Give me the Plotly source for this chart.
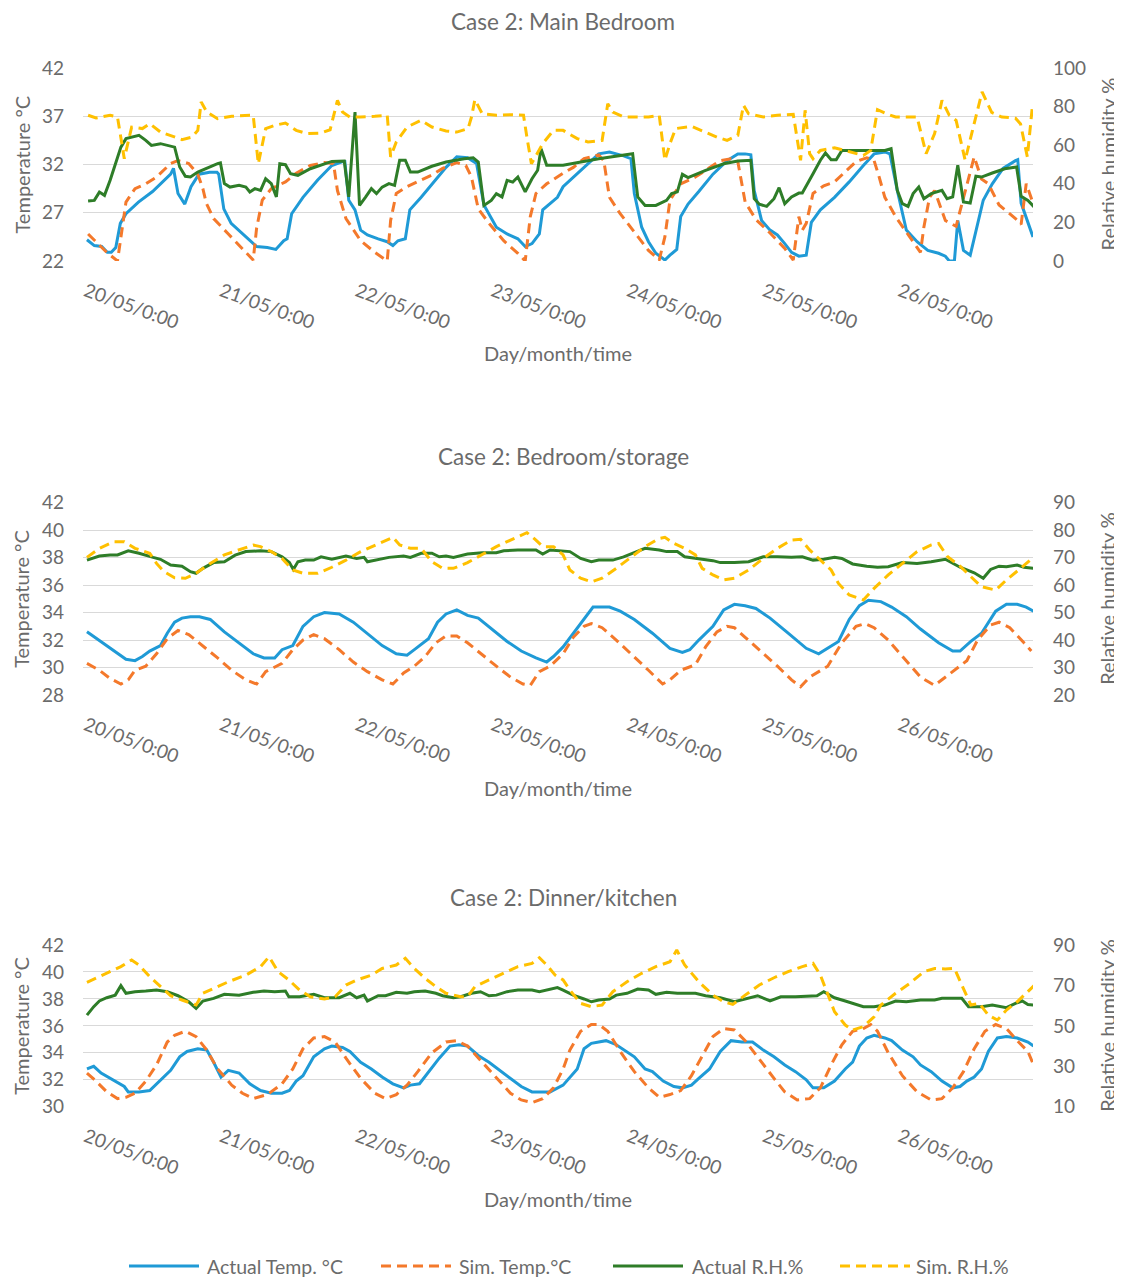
import plotly.graph_objects as go

# ---------------- data (hour since 20/05 0:00, value) ----------------
DAY_HOURS = [0, 24, 48, 72, 96, 120, 144]
DAY_LABELS = ["20/05/0:00", "21/05/0:00", "22/05/0:00", "23/05/0:00",
              "24/05/0:00", "25/05/0:00", "26/05/0:00"]
SERIES_NAMES = ["Actual Temp. °C", "Sim. Temp.°C", "Actual R.H.%", "Sim. R.H.%"]
TITLES = ["Case 2: Main Bedroom", "Case 2: Bedroom/storage", "Case 2: Dinner/kitchen"]

# Chart 1: Main Bedroom
bed_act_temp = [(0.2,24.2),(1.5,23.6),(2.8,23.5),(3.8,22.9),(4.5,22.9),(5.3,23.4),(6.1,25.9),(7.1,26.9),(9.3,28.1),(11.8,29.2),
    (15.0,31.0),(15.5,31.6),(16.3,29.0),(17.5,27.9),(18.6,29.7),(20.0,31.0),(21.9,31.2),(23.2,31.2),(23.5,31.0),(24.4,27.4),
    (25.7,25.9),(28.3,24.5),(30.2,23.5),(32.1,23.4),(33.6,23.2),(35.0,24.1),(35.6,24.3),(36.4,26.9),(38.4,28.6),(41.0,30.4),
    (43.5,31.9),(45.4,32.3),(45.8,32.3),(46.5,28.3),(47.6,27.3),(48.6,25.2),(49.8,24.7),(51.7,24.3),(53.3,24.0),(54.3,23.6),
    (55.2,24.1),(56.5,24.3),(57.3,27.3),(59.3,28.6),(61.8,30.4),(63.7,31.7),(65.6,32.8),(67.5,32.7),(69.1,32.1),(70.4,27.8),
    (72.6,25.5),(74.5,24.8),(76.4,24.3),(77.7,23.5),(78.9,23.8),(80.2,24.8),(80.8,27.3),(83.4,28.6),(84.4,29.7),(87.5,31.4),
    (90.7,33.1),(92.6,33.3),(95.1,32.9),(96.4,32.6),(97.0,29.0),(98.3,25.5),(99.5,24.0),(100.8,22.8),(102.4,22.1),(103.3,22.6),
    (104.5,23.2),(105.2,26.6),(106.5,27.9),(108.4,29.2),(110.9,31.0),(113.4,32.4),(115.3,33.1),(116.6,33.1),(117.6,33.0),(118.2,29.3),
    (119.5,26.2),(121.0,25.2),(122.3,24.7),(123.6,23.8),(124.8,22.9),(126.1,22.5),(127.4,22.6),(128.3,26.0),(129.9,27.3),(132.4,28.6),
    (135.0,30.2),(137.5,31.9),(139.4,33.1),(141.3,33.3),(142.2,33.1),(143.5,29.3),(145.1,25.2),(147.0,24.0),(148.9,23.1),(150.8,22.8),
    (152.0,22.5),(152.7,22.0),(153.6,22.0),(154.2,26.2),(155.2,23.1),(156.4,22.6),(157.7,25.9),(158.7,28.3),(160.3,30.0),(162.2,31.6),
    (164.4,32.4),(164.8,32.5),(165.4,28.0),(167.5,24.5)]
bed_sim_temp = [(0.4,24.8),(1.8,24.0),(3.7,22.9),(5.6,22.0),(6.5,25.9),(7.1,28.1),(8.7,29.5),(10.6,30.0),(12.5,30.7),(15.0,32.1),
    (16.3,32.4),(18.2,32.1),(19.8,31.0),(20.7,29.5),(21.3,28.0),(22.6,26.4),(25.2,24.8),(27.7,23.3),(29.6,22.1),(30.2,25.4),
    (31.2,28.3),(32.8,29.5),(35.3,30.2),(37.2,31.1),(39.7,31.9),(42.2,32.2),(43.8,32.1),(44.5,29.3),(46.0,26.4),(48.6,24.1),
    (51.1,22.9),(53.3,22.0),(53.9,26.2),(54.9,29.0),(56.8,29.7),(59.3,30.4),(61.2,30.9),(63.1,31.6),(65.6,32.2),(67.2,31.9),
    (68.2,30.7),(69.4,27.4),(71.3,25.9),(73.9,24.1),(76.4,22.8),(77.7,22.0),(78.6,26.6),(79.6,29.0),(81.5,30.0),(84.4,31.1),
    (86.2,31.7),(88.1,32.6),(90.7,33.0),(91.6,32.4),(92.6,28.6),(94.5,26.9),(97.0,25.0),(99.5,23.1),(101.4,22.1),(102.4,24.5),
    (103.3,28.3),(105.2,30.0),(107.8,30.7),(109.6,31.4),(112.2,32.4),(114.1,32.6),(115.3,32.3),(116.6,28.1),(118.5,26.3),(121.0,24.9),
    (123.6,23.3),(125.1,22.1),(126.1,26.6),(126.7,25.2),(127.4,25.9),(128.6,29.0),(130.5,29.8),(132.4,30.2),(134.3,31.2),(136.2,32.3),
    (138.1,32.7),(139.4,32.4),(140.3,30.7),(141.3,28.6),(143.2,26.6),(145.1,25.0),(147.0,23.5),(147.6,22.9),(148.2,25.5),(149.2,28.6),
    (150.1,29.3),(152.0,26.2),(153.9,25.6),(157.1,32.8),(158.4,30.5),(159.6,30.0),(161.5,27.8),(164.4,26.4),(165.4,25.8),(166.3,30.0),
    (167.5,28.0)]
bed_act_rh = [(0.4,31.1),(1.5,31.4),(2.4,35.7),(3.3,34.0),(4.3,41.8),(6.2,59.0),(7.1,63.4),(8.4,64.2),(9.4,65.1),(10.6,62.5),
    (11.6,59.9),(13.2,60.8),(14.4,60.0),(15.7,59.0),(16.6,48.7),(17.6,43.9),(18.5,43.5),(19.8,46.1),(23.3,50.4),(23.8,50.8),
    (24.5,40.1),(25.5,38.3),(27.1,39.2),(28.3,38.3),(29.0,35.8),(29.9,37.5),(30.9,36.6),(31.8,42.6),(32.8,40.1),(33.7,33.2),
    (34.3,50.4),(35.3,49.9),(36.2,45.2),(37.5,44.4),(39.7,47.8),(42.2,50.4),(43.5,51.6),(45.7,51.8),(46.5,33.2),(47.6,77.2),
    (48.4,28.8),(49.5,33.2),(50.5,37.5),(51.4,34.9),(52.4,38.3),(53.6,40.1),(54.6,39.2),(55.5,52.2),(56.5,52.2),(57.4,46.1),
    (58.7,46.1),(61.2,49.1),(63.7,51.3),(66.9,53.0),(68.5,53.5),(69.4,51.3),(70.4,28.8),(71.7,31.4),(72.6,34.9),(73.6,33.2),
    (74.5,41.8),(75.5,40.9),(76.4,43.5),(77.7,35.8),(78.9,42.6),(79.9,47.0),(80.5,58.2),(81.5,49.6),(84.4,49.6),(90.7,53.0),
    (93.8,54.2),(96.7,55.6),(97.6,33.2),(98.9,28.8),(100.8,28.8),(102.7,31.4),(103.6,34.9),(104.6,35.8),(105.5,44.9),(106.5,43.2),
    (109.6,47.0),(112.8,50.4),(115.3,51.8),(117.6,52.2),(118.2,32.3),(119.1,29.4),(120.4,28.3),(121.7,32.3),(122.6,38.0),(123.6,29.7),
    (124.8,33.2),(126.1,35.2),(126.7,35.2),(127.7,40.9),(128.6,45.2),(129.9,52.2),(130.8,56.0),(131.8,52.5),(132.7,52.5),(133.7,57.3),
    (138.1,57.3),(141.3,57.3),(142.4,58.2),(143.5,36.6),(144.4,29.7),(145.4,28.3),(146.3,34.9),(147.3,38.3),(148.2,32.3),(149.5,34.9),
    (151.4,36.6),(152.3,32.3),(153.3,33.2),(154.2,49.6),(155.2,30.6),(156.4,30.0),(157.4,43.9),(158.4,43.5),(160.3,45.6),(162.5,47.8),
    (164.6,48.7),(165.4,33.5),(166.6,31.4),(167.7,28.0)]
bed_sim_rh = [(0.4,75.5),(1.8,74.1),(4.3,75.5),(5.6,74.6),(6.8,53.0),(8.1,69.4),(10.0,68.6),(11.3,71.2),(13.2,66.8),(15.0,65.1),
    (17.0,62.9),(18.8,64.2),(19.8,67.7),(20.4,82.4),(21.4,77.2),(23.3,73.7),(25.8,75.0),(29.0,75.5),(29.6,75.5),(30.5,50.4),
    (31.8,68.6),(33.4,70.3),(35.3,71.5),(37.2,67.7),(39.1,66.0),(41.6,66.3),(43.2,68.0),(44.5,83.2),(45.4,77.2),(46.7,74.6),
    (48.6,74.6),(51.1,75.0),(53.3,75.5),(53.9,53.9),(54.9,61.7),(56.8,69.4),(59.3,72.9),(61.2,69.4),(63.7,67.4),(65.6,66.8),
    (67.6,68.6),(68.2,74.6),(68.8,83.6),(70.1,76.3),(72.6,75.5),(75.1,75.8),(77.4,75.5),(78.0,64.2),(78.8,50.4),(80.8,60.8),
    (82.7,67.7),(84.4,67.7),(86.9,63.4),(88.8,61.7),(91.3,62.5),(92.3,81.5),(93.2,77.2),(95.1,74.6),(97.0,74.6),(99.5,74.6),
    (101.4,75.5),(102.4,52.2),(103.3,60.8),(104.3,68.6),(107.1,69.8),(109.6,66.8),(111.6,64.2),(113.4,62.5),(115.3,65.1),(116.3,80.7),
    (117.2,76.3),(119.8,74.6),(122.3,75.5),(125.1,76.0),(125.8,64.2),(126.4,52.2),(127.2,78.1),(128.0,55.6),(128.6,53.0),(129.9,57.3),
    (132.4,58.7),(135.0,56.5),(137.5,54.7),(138.8,57.3),(140.0,78.4),(141.6,76.3),(143.2,74.6),(145.4,74.6),(147.0,74.6),(148.6,55.6),
    (150.1,66.0),(151.4,83.2),(152.7,75.5),(153.9,72.9),(155.5,52.2),(156.8,67.7),(158.5,87.6),(160.2,77.0),(162.0,74.6),(164.4,74.0),
    (165.3,71.0),(165.9,62.4),(166.5,53.9),(167.4,80.4)]

# Chart 2: Bedroom/storage
sto_act_temp = [(0.2,32.6),(3.0,31.8),(5.6,31.0),(7.1,30.6),(8.7,30.5),(10.0,30.8),(11.3,31.2),(13.2,31.6),(14.4,32.5),(15.7,33.3),
    (17.0,33.6),(18.5,33.7),(20.1,33.7),(22.0,33.5),(24.5,32.6),(27.1,31.8),(29.6,31.0),(31.5,30.7),(33.4,30.7),(34.7,31.3),
    (36.6,31.6),(38.4,33.0),(40.3,33.7),(42.2,34.0),(44.8,33.9),(47.3,33.3),(49.8,32.5),(52.4,31.6),(54.9,31.0),(56.8,30.9),
    (58.1,31.3),(60.6,32.1),(62.2,33.3),(63.7,33.9),(65.6,34.2),(67.5,33.8),(69.4,33.6),(72.0,32.7),(74.5,31.9),(77.0,31.2),
    (79.6,30.7),(81.5,30.4),(82.7,30.8),(84.4,31.5),(86.2,32.5),(88.1,33.5),(89.7,34.4),(92.6,34.4),(94.5,34.1),(97.0,33.5),
    (100.2,32.5),(103.3,31.4),(105.5,31.1),(106.8,31.3),(108.4,32.0),(110.9,33.0),(112.8,34.2),(114.7,34.6),(116.6,34.5),(118.5,34.3),
    (121.0,33.6),(124.2,32.5),(127.4,31.4),(129.6,31.0),(131.2,31.4),(133.1,31.9),(135.0,33.5),(136.8,34.5),(138.4,34.9),(140.6,34.8),
    (142.5,34.4),(145.1,33.7),(147.6,32.8),(150.8,31.8),(153.3,31.2),(154.6,31.2),(156.5,31.9),(158.4,32.5),(160.9,34.1),(162.8,34.6),
    (164.7,34.6),(166.3,34.4),(167.6,34.1)]
sto_sim_temp = [(0.2,30.3),(2.4,29.8),(4.3,29.2),(6.2,28.8),(7.5,29.1),(8.7,29.8),(10.6,30.1),(12.5,31.0),(14.4,32.1),(16.3,32.7),
    (18.2,32.4),(20.7,31.6),(23.3,30.7),(25.8,29.8),(28.3,29.1),(30.2,28.8),(31.8,29.7),(34.7,30.3),(36.6,31.3),(38.4,32.0),
    (40.3,32.4),(42.2,32.1),(44.8,31.3),(47.3,30.4),(49.8,29.7),(52.4,29.1),(54.3,28.8),(56.2,29.6),(58.1,30.1),(60.0,30.8),
    (61.9,31.8),(63.7,32.3),(65.6,32.3),(67.5,31.8),(70.1,30.9),(72.6,30.1),(75.1,29.3),(77.3,28.8),(78.6,28.7),(80.2,29.7),
    (82.1,30.1),(84.4,31.0),(86.2,32.2),(88.1,33.0),(89.4,33.2),(91.3,32.9),(93.8,32.0),(97.0,30.8),(99.5,29.8),(102.0,28.8),
    (103.3,29.1),(105.2,29.8),(107.8,30.2),(109.6,31.5),(111.6,32.6),(113.4,33.0),(114.7,32.9),(116.6,32.2),(119.1,31.3),(122.3,30.1),
    (124.8,29.1),(126.4,28.6),(128.0,29.3),(131.2,30.1),(133.7,31.8),(136.2,33.0),(137.8,33.2),(139.4,32.9),(141.9,32.0),(145.1,30.5),
    (147.6,29.3),(150.1,28.7),(152.0,29.3),(153.9,29.9),(155.8,30.5),(157.7,32.0),(160.0,33.1),(161.5,33.3),(163.4,32.9),(165.9,31.8),
    (167.2,31.2)]
sto_act_rh = [(0.2,69.1),(2.4,70.6),(4.3,71.0),(5.6,71.0),(7.5,72.5),(9.4,71.6),(11.9,70.1),(13.2,69.4),(15.0,67.3),(17.0,66.9),
    (18.5,64.9),(19.5,64.3),(20.7,66.1),(22.6,68.2),(24.5,68.5),(26.4,70.9),(28.3,72.2),(30.9,72.5),(32.8,72.2),(34.7,70.3),
    (36.0,68.2),(36.7,65.7),(37.5,68.5),(38.8,69.1),(40.3,69.1),(41.6,70.3),(43.5,69.4),(46.0,70.6),(47.9,69.7),(49.2,70.1),
    (49.8,68.5),(53.6,70.1),(56.2,70.6),(57.4,70.1),(59.3,71.6),(61.2,71.6),(62.5,70.3),(63.7,70.6),(65.0,70.1),(66.0,70.6),
    (67.5,71.3),(70.1,71.8),(72.6,71.8),(73.9,72.5),(76.4,72.8),(79.6,72.8),(80.8,71.3),(82.1,72.8),(84.4,72.5),(85.6,72.2),
    (87.5,69.7),(89.4,68.5),(90.7,69.1),(93.2,69.1),(95.1,70.3),(97.0,71.8),(98.9,73.4),(101.4,72.8),(102.7,72.2),(104.6,72.2),
    (105.9,70.3),(109.0,69.4),(110.9,68.9),(112.2,68.2),(114.7,68.2),(117.2,68.5),(119.8,70.3),(122.3,70.3),(124.8,70.1),(126.7,70.3),
    (128.6,69.1),(130.5,69.4),(132.4,70.1),(133.7,69.7),(135.6,67.7),(138.1,66.9),(140.0,66.5),(141.9,66.7),(144.4,68.2),(147.0,67.9),
    (149.5,68.5),(152.0,69.4),(153.0,68.2),(154.6,66.5),(157.1,64.5),(158.7,62.5),(160.0,65.7),(161.5,66.9),(162.8,66.7),(164.7,67.3),
    (165.9,66.5),(167.6,66.1)]
sto_sim_rh = [(0.2,70.1),(2.4,73.4),(4.9,75.8),(6.8,75.8),(8.7,73.4),(11.3,71.6),(12.5,67.9),(13.8,64.9),(15.7,62.7),(17.6,62.5),
    (19.5,64.3),(22.0,67.9),(24.5,71.0),(27.1,72.8),(29.6,74.6),(30.9,74.0),(32.8,72.2),(34.7,69.7),(36.6,65.5),(38.4,64.3),
    (41.0,64.3),(43.5,66.5),(46.0,69.1),(48.6,72.2),(51.1,74.6),(54.3,77.4),(55.5,74.6),(57.4,73.4),(59.3,73.4),(61.2,68.5),
    (63.1,66.1),(65.0,66.1),(67.5,68.2),(70.1,71.3),(72.6,74.0),(75.1,76.4),(78.0,79.1),(79.6,76.4),(80.8,74.0),(82.7,74.0),
    (84.4,71.0),(85.6,65.5),(87.5,62.5),(89.4,61.2),(91.3,62.5),(93.8,66.1),(96.4,70.3),(98.9,74.0),(101.4,77.0),(102.4,77.4),
    (104.0,75.2),(105.9,73.4),(107.8,71.0),(109.0,66.1),(110.9,63.7),(112.8,61.9),(114.7,62.5),(117.2,65.5),(119.8,69.7),(122.3,73.4),
    (124.8,76.4),(126.4,76.7),(128.0,72.8),(129.9,69.1),(131.8,65.5),(133.1,60.6),(135.0,56.4),(137.5,54.6),(139.4,58.8),(141.9,63.7),
    (144.4,67.9),(147.0,72.2),(149.5,74.6),(150.8,75.2),(152.4,70.3),(154.6,66.9),(156.5,63.1),(158.4,59.4),(160.9,58.2),(162.8,61.9),
    (165.3,66.1),(167.6,70.1)]

# Chart 3: Dinner/kitchen
kit_act_temp = [(0.2,32.8),(1.4,33.0),(2.7,32.5),(4.3,32.1),(5.9,31.7),(6.8,31.5),(7.5,31.1),(9.4,31.1),(11.3,31.2),(13.2,32.0),
    (15.0,32.7),(16.6,33.7),(17.9,34.1),(19.8,34.3),(21.4,34.2),(22.6,33.3),(23.9,32.2),(25.2,32.7),(27.1,32.5),(29.0,31.7),
    (30.9,31.2),(32.8,31.0),(34.7,31.0),(36.0,31.2),(37.2,31.9),(38.4,32.3),(40.3,33.7),(42.2,34.3),(43.5,34.5),(45.4,34.4),
    (46.7,34.1),(48.6,33.3),(50.5,32.8),(52.4,32.2),(54.3,31.7),(56.2,31.4),(57.4,31.6),(59.0,31.7),(60.6,32.6),(62.5,33.6),
    (64.4,34.5),(66.0,34.6),(67.5,34.5),(69.4,33.8),(71.3,33.3),(73.2,32.7),(75.1,32.1),(77.0,31.5),(78.9,31.1),(80.8,31.1),
    (82.1,31.1),(84.4,31.6),(85.6,32.2),(86.9,32.8),(88.1,34.3),(89.4,34.7),(90.7,34.8),(92.0,34.9),(93.8,34.6),(95.7,34.1),
    (97.0,33.7),(98.9,32.8),(100.2,32.6),(102.1,31.9),(104.0,31.5),(105.5,31.4),(107.1,31.6),(108.4,32.1),(110.3,32.8),(112.2,34.1),
    (114.1,34.9),(116.0,34.8),(117.9,34.8),(119.8,34.2),(121.7,33.7),(123.6,33.1),(125.5,32.6),(127.4,32.0),(128.6,31.4),(130.5,31.4),
    (132.4,31.9),(134.3,32.8),(135.6,33.3),(136.8,34.5),(138.1,35.1),(139.4,35.3),(141.3,35.1),(142.5,34.9),(144.4,34.2),(146.3,33.7),
    (147.6,33.1),(149.5,32.6),(151.4,31.9),(153.3,31.4),(154.6,31.5),(155.8,31.9),(157.1,32.2),(158.4,32.8),(159.6,34.1),(161.2,35.1),
    (162.8,35.2),(164.7,35.1),(166.6,34.8),(167.6,34.5)]
kit_sim_temp = [(0.2,32.5),(1.8,31.9),(3.7,31.1),(5.6,30.6),(7.1,30.7),(8.7,31.0),(10.6,31.9),(12.5,33.1),(14.4,34.8),(15.7,35.3),
    (17.6,35.6),(19.5,35.2),(21.4,34.2),(23.3,32.8),(25.8,31.6),(27.7,31.0),(29.6,30.6),(32.1,30.9),(34.7,31.7),(36.6,32.8),
    (38.4,34.3),(40.3,35.1),(42.2,35.2),(44.1,34.8),(46.0,33.6),(48.6,32.1),(51.1,31.0),(53.0,30.6),(54.9,30.9),(56.8,31.6),
    (58.7,32.6),(61.2,34.0),(63.7,34.8),(65.6,34.9),(67.5,34.5),(70.1,33.3),(72.6,32.1),(75.1,31.0),(77.0,30.5),(78.9,30.3),
    (80.8,30.6),(82.7,31.4),(84.4,32.8),(85.6,34.2),(87.5,35.6),(89.4,36.1),(90.7,36.1),(92.3,35.6),(94.5,34.1),(97.0,32.6),
    (99.5,31.4),(101.4,30.7),(103.3,30.9),(105.2,31.2),(107.1,32.3),(109.0,33.8),(110.9,35.2),(112.8,35.8),(114.7,35.7),(116.6,34.9),
    (119.1,33.5),(121.7,32.1),(123.6,31.1),(125.8,30.5),(128.0,30.6),(129.9,31.4),(131.8,33.1),(133.7,34.6),(135.6,35.6),(137.5,35.8),
    (138.8,36.1),(140.0,35.6),(141.9,34.0),(144.4,32.3),(147.0,31.1),(149.5,30.5),(151.4,30.6),(153.3,31.4),(155.2,32.6),(157.1,34.3),
    (159.0,35.6),(160.9,36.1),(162.8,35.8),(164.7,34.9),(166.6,34.1),(167.6,33.1)]
kit_act_rh = [(0.2,55.3),(1.4,59.5),(2.4,62.3),(3.7,63.9),(5.2,65.2),(6.2,69.9),(7.1,66.1),(8.7,66.9),(10.6,67.2),(12.5,67.7),
    (14.4,66.9),(16.3,64.9),(18.2,61.9),(19.5,58.6),(20.7,62.3),(22.6,63.6),(24.5,65.6),(27.1,65.2),(29.6,66.6),(31.5,67.2),
    (33.4,66.9),(35.3,67.2),(35.9,64.4),(37.8,64.4),(40.3,65.6),(42.2,63.9),(44.8,63.9),(46.7,66.1),(47.9,63.9),(49.2,65.2),
    (49.8,62.3),(51.7,64.9),(53.0,64.9),(54.9,66.6),(56.8,66.1),(58.1,66.9),(60.0,67.2),(61.9,66.1),(63.1,64.9),(65.0,63.9),
    (66.3,64.4),(68.2,66.1),(69.8,66.9),(71.3,64.9),(72.6,65.2),(74.5,66.9),(76.4,67.7),(78.9,67.7),(80.2,66.9),(81.5,67.7),
    (83.4,68.9),(84.4,67.7),(86.2,65.2),(88.1,63.3),(89.4,61.9),(90.7,62.8),(92.6,63.3),(93.8,65.2),(95.7,66.1),(97.6,68.2),
    (99.5,67.7),(100.8,65.6),(102.7,66.6),(104.6,66.1),(107.8,66.1),(109.6,64.9),(112.2,63.9),(114.7,61.9),(116.6,63.3),(118.8,64.9),
    (121.0,62.3),(122.9,64.4),(125.5,64.4),(128.0,64.9),(129.3,64.9),(130.5,66.9),(132.4,63.9),(134.3,62.3),(135.6,61.1),(137.5,59.5),
    (139.4,59.5),(141.3,60.3),(143.2,62.3),(145.1,61.9),(147.6,62.8),(150.1,62.8),(151.4,63.6),(154.9,63.6),(156.1,59.5),(158.4,59.5),
    (160.3,60.3),(162.8,59.0),(164.4,61.1),(165.6,62.3),(166.6,60.6),(167.6,60.3)]
kit_sim_rh = [(0.2,71.5),(2.4,74.3),(4.3,76.8),(6.2,79.3),(8.1,82.6),(9.4,80.1),(11.3,74.3),(13.2,69.4),(15.0,64.9),(17.0,62.8),
    (19.5,60.3),(20.7,66.1),(22.6,68.5),(25.2,71.8),(28.3,75.1),(30.9,79.3),(32.4,84.2),(34.0,76.8),(35.9,72.7),(37.8,67.7),
    (39.7,64.4),(42.2,63.3),(44.1,64.4),(46.0,70.2),(47.9,72.7),(50.5,75.1),(52.4,78.4),(54.9,80.1),(56.5,83.4),(58.1,78.4),
    (60.0,73.5),(61.9,69.4),(63.7,66.1),(66.3,64.4),(67.5,64.4),(68.8,69.4),(71.3,72.7),(73.9,76.0),(76.4,79.3),(78.9,80.9),
    (80.2,83.7),(81.5,80.1),(83.0,75.1),(84.4,72.7),(85.6,67.7),(87.5,61.1),(89.4,59.5),(91.3,60.3),(93.2,66.9),(95.7,71.8),
    (98.3,76.0),(100.8,79.3),(103.3,81.7),(104.5,87.5),(105.9,80.1),(108.4,71.8),(110.9,65.2),(112.8,61.9),(114.4,60.6),(116.6,65.2),
    (119.1,70.2),(121.7,73.8),(124.2,76.8),(126.7,79.3),(128.6,80.9),(129.9,75.1),(131.2,65.2),(132.4,57.0),(134.3,50.4),(135.6,47.9),
    (137.5,49.6),(139.4,54.5),(140.6,60.3),(143.2,66.1),(145.7,71.0),(148.2,76.8),(150.1,78.4),(152.0,78.1),(153.6,78.4),(155.2,68.5),
    (156.5,60.3),(158.0,61.1),(159.6,55.3),(161.2,52.9),(162.8,57.8),(164.7,61.9),(166.6,66.9),(167.8,70.2)]

CHARTS = [
    dict(title=TITLES[0], series=[bed_act_temp, bed_sim_temp, bed_act_rh, bed_sim_rh],
         trange=[22, 42], tdtick=5, rrange=[0, 100], rdtick=20),
    dict(title=TITLES[1], series=[sto_act_temp, sto_sim_temp, sto_act_rh, sto_sim_rh],
         trange=[28, 42], tdtick=2, rrange=[20, 90], rdtick=10),
    dict(title=TITLES[2], series=[kit_act_temp, kit_sim_temp, kit_act_rh, kit_sim_rh],
         trange=[30, 42], tdtick=2, rrange=[10, 90], rdtick=20),
]

# ---------------- styling ----------------
# the page body has an 8px margin, so the figure is drawn 8px smaller and
# every target position (in window pixels) is shifted by OFF.
OFF = 8
W, H = 1122 - OFF, 1279 - OFF
PL, PR = 83 - OFF, 1033 - OFF                          # plot left / right
PLOT_TOPS = [68 - OFF, 502.7 - OFF, 945 - OFF]          # top gridline
PLOT_BOTS = [261 - OFF, 695 - OFF, 1106.7 - OFF]        # bottom gridline
TITLE_Y = [22 - OFF, 456 - OFF, 897 - OFF]
XTITLE_Y = [353 - OFF, 788 - OFF, 1199 - OFF]
LEGEND_Y = 1266 - OFF
LEGEND_ITEMS = [(129, 199, 205), (381, 451, 457), (613, 683, 690), (840, 910, 914)]  # window px

COLORS = ["#1f9ad6", "#f4792b", "#2e7d28", "#ffc000"]
DASHES = ["solid", "10px,6px", "solid", "10px,6px"]
FONT = "Lato, 'Open Sans', sans-serif"
TXT = "#6b6b6b"
GRID = "#d9d9d9"


def py(px):
    return 1 - px / H


def pxx(px):
    return (px - PL) / (PR - PL)


fig = go.Figure()
layout = dict(
    width=W, height=H, paper_bgcolor="white", plot_bgcolor="white",
    margin=dict(l=PL, r=W - PR, t=0, b=0, autoexpand=False),
    font=dict(family=FONT, color=TXT, size=19),
    showlegend=False,
    annotations=[], shapes=[],
)

for i, ch in enumerate(CHARTS):
    xi = "" if i == 0 else str(i + 1)
    yl = "" if i == 0 else str(2 * i + 1)
    yr = str(2 * i + 2)
    dom = [py(PLOT_BOTS[i]), py(PLOT_TOPS[i])]
    layout["xaxis" + xi] = dict(
        domain=[0, 1], range=[-0.5, 167.5], anchor="y" + yl,
        tickmode="array", tickvals=DAY_HOURS, ticktext=DAY_LABELS, tickangle=20,
        showgrid=False, zeroline=False, showline=False, ticks="",
        tickfont=dict(size=19, color=TXT, family=FONT), ticklabelstandoff=15)
    layout["yaxis" + yl] = dict(
        domain=dom, range=ch["trange"], dtick=ch["tdtick"], tick0=ch["trange"][0],
        anchor="x" + xi, showgrid=True, gridcolor=GRID, gridwidth=1.3,
        zeroline=False, showline=False, ticks="",
        tickfont=dict(size=19, color=TXT, family=FONT), ticklabelstandoff=18)
    layout["yaxis" + yr] = dict(
        domain=dom, range=ch["rrange"], dtick=ch["rdtick"], tick0=ch["rrange"][0],
        anchor="x" + xi, overlaying="y" + yl, side="right", showgrid=False,
        zeroline=False, showline=False, ticks="",
        tickfont=dict(size=19, color=TXT, family=FONT), ticklabelstandoff=19)

    for k, s in enumerate(ch["series"]):
        fig.add_trace(go.Scatter(
            x=[p[0] for p in s], y=[p[1] for p in s], mode="lines",
            name=SERIES_NAMES[k], showlegend=False,
            line=dict(color=COLORS[k], width=3, dash=DASHES[k]),
            xaxis="x" + xi, yaxis="y" + (yl if k < 2 else yr)))

    mid = py((PLOT_TOPS[i] + PLOT_BOTS[i]) / 2)
    layout["annotations"] += [
        dict(text=ch["title"], x=pxx(563 - OFF), y=py(TITLE_Y[i]), xref="paper", yref="paper",
             showarrow=False, xanchor="center", yanchor="middle", font=dict(size=22.5, color=TXT)),
        dict(text="Day/month/time", x=pxx(558 - OFF), y=py(XTITLE_Y[i]), xref="paper", yref="paper",
             showarrow=False, xanchor="center", yanchor="middle", font=dict(size=20, color=TXT)),
        dict(text="Temperature °C", x=pxx(21 - OFF), y=mid, xref="paper", yref="paper",
             showarrow=False, xanchor="center", yanchor="middle", textangle=-90, font=dict(size=20, color=TXT)),
        dict(text="Relative humidity %", x=pxx(1107 - OFF), y=mid, xref="paper", yref="paper",
             showarrow=False, xanchor="center", yanchor="middle", textangle=-90, font=dict(size=20, color=TXT)),
    ]

# legend (line samples + labels), one entry per series
for k, (x0, x1, xt) in enumerate(LEGEND_ITEMS):
    layout["shapes"].append(dict(
        type="line", xref="paper", yref="paper", x0=pxx(x0 - OFF), x1=pxx(x1 - OFF),
        y0=py(LEGEND_Y), y1=py(LEGEND_Y),
        line=dict(color=COLORS[k], width=3, dash=DASHES[k])))
    layout["annotations"].append(dict(
        text=SERIES_NAMES[k], x=pxx(xt - OFF), y=py(LEGEND_Y), xref="paper", yref="paper",
        showarrow=False, xanchor="left", yanchor="middle", font=dict(size=19.5, color=TXT)))

fig.update_layout(**layout)
fig.write_html("out.html")
